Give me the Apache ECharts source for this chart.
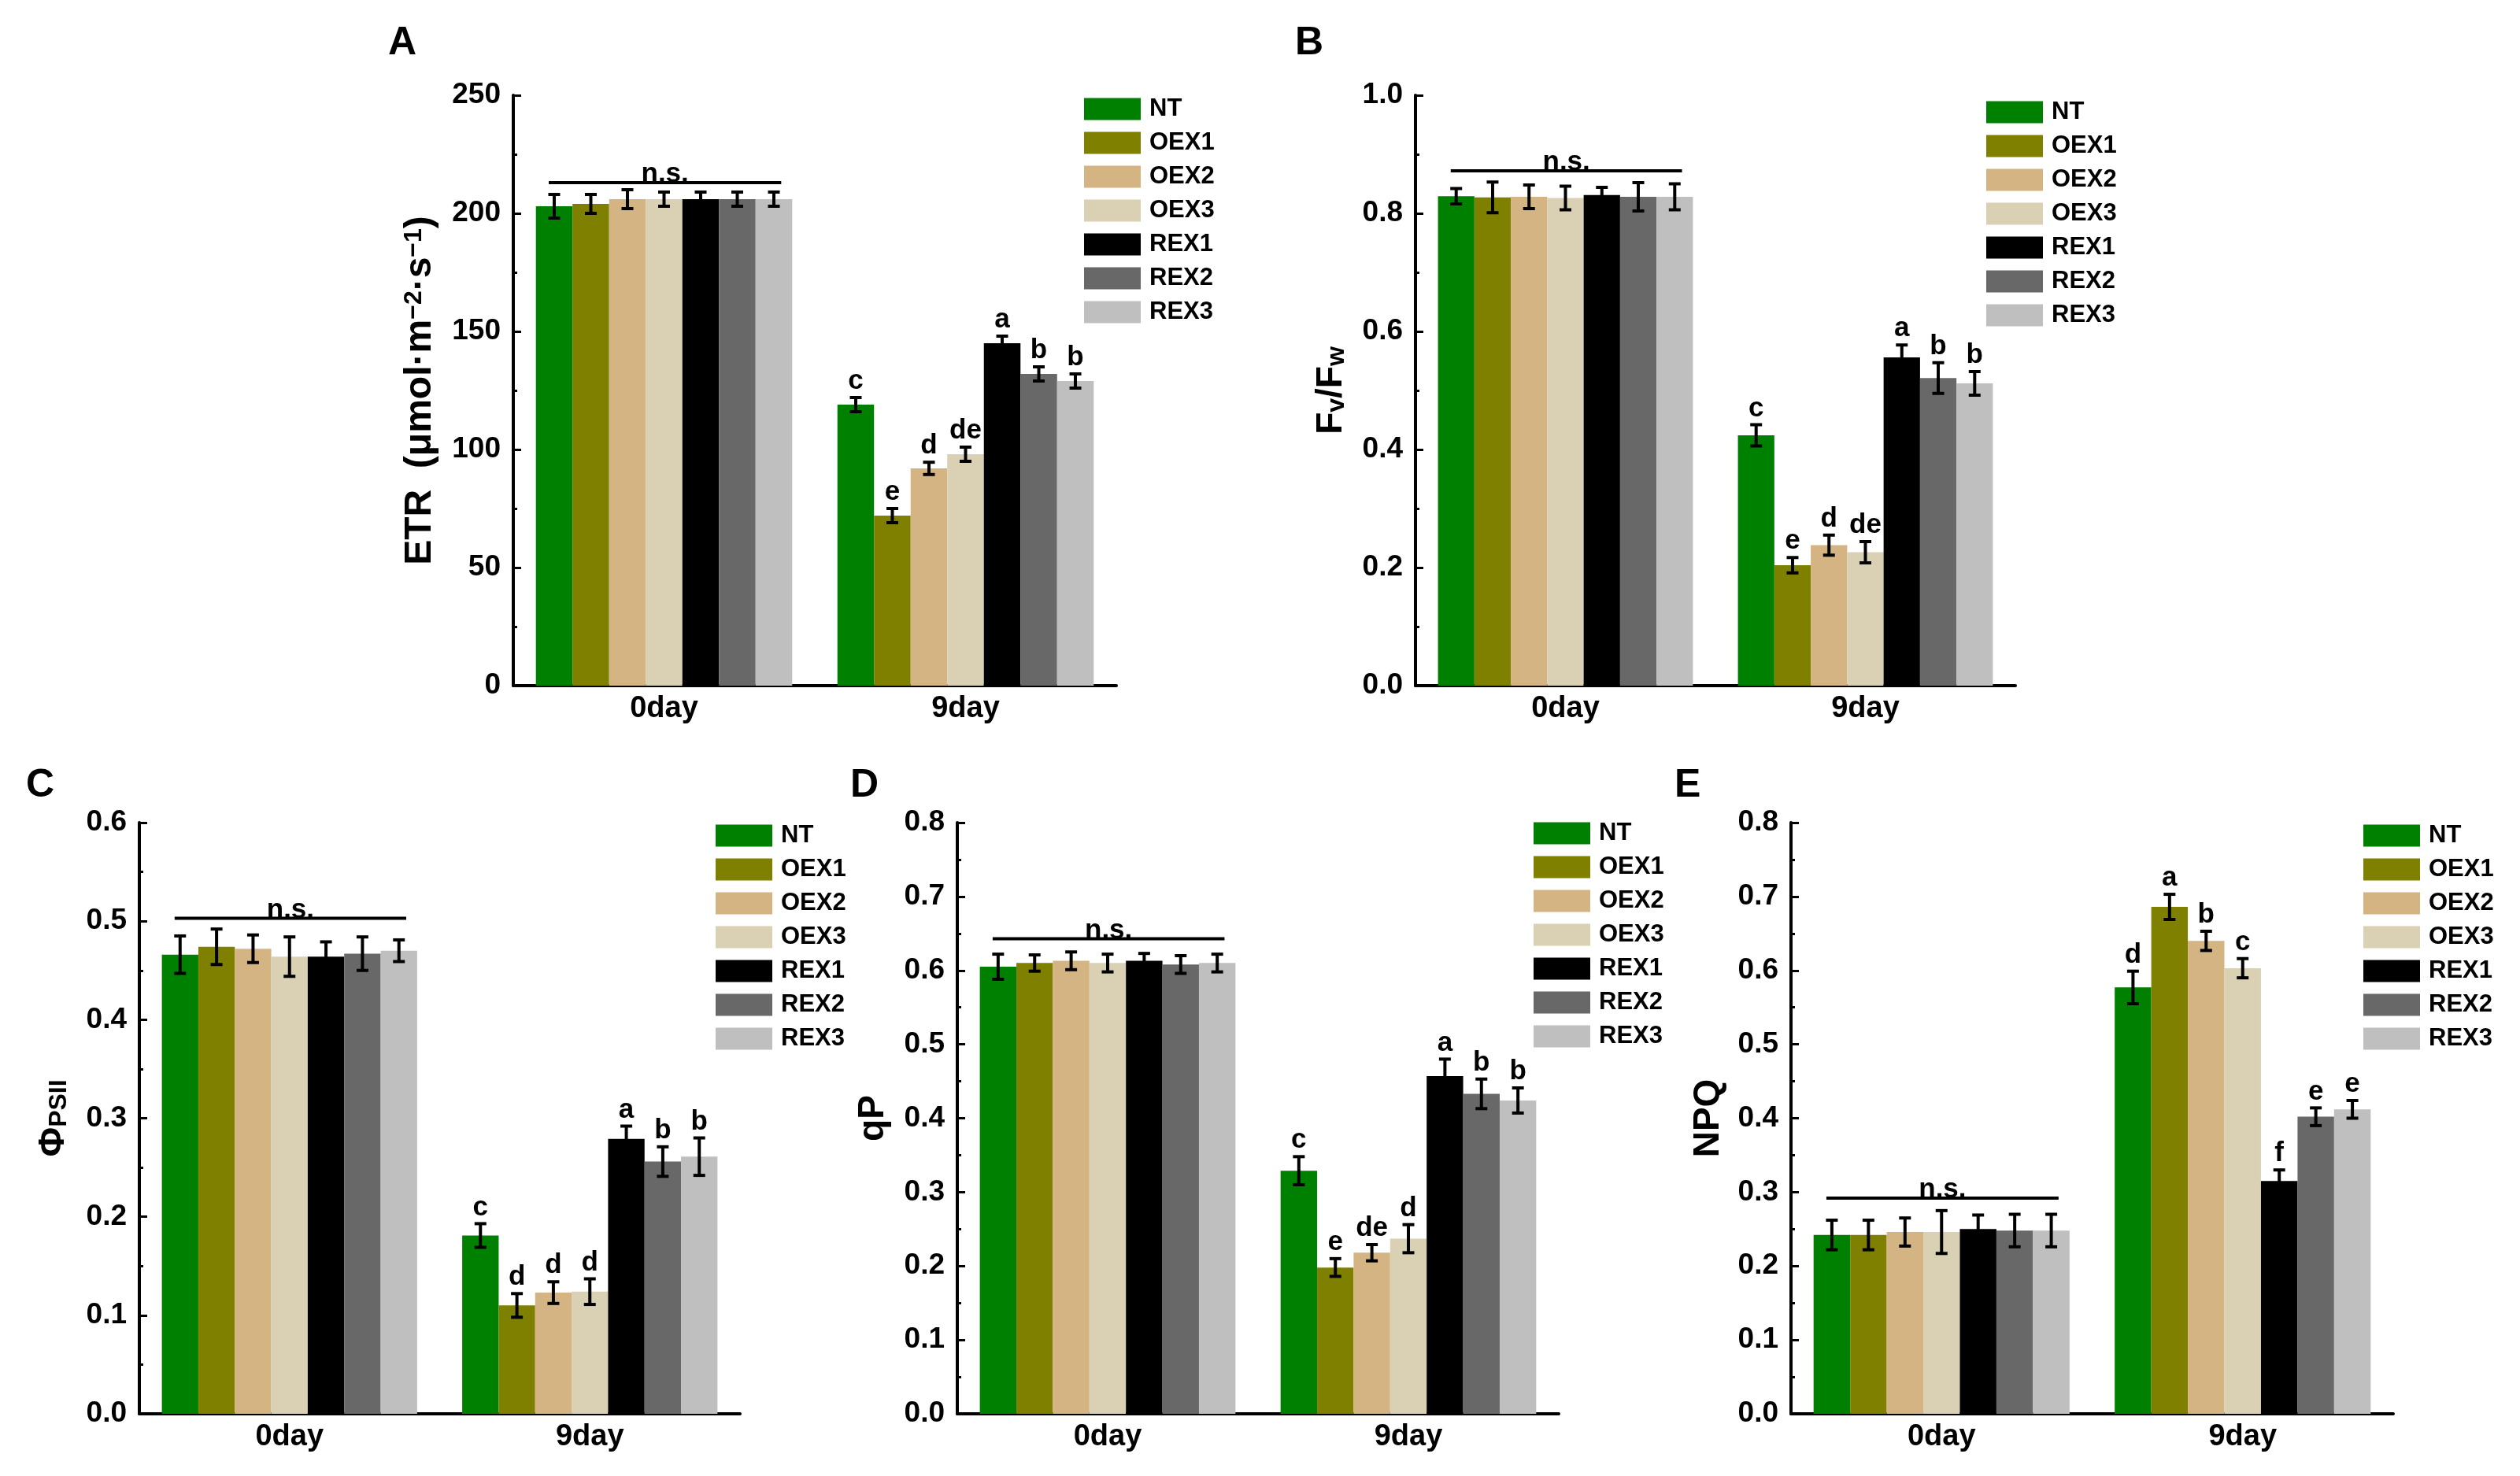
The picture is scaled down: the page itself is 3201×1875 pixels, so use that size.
<!DOCTYPE html>
<html>
<head>
	<meta charset="utf-8" />
	<title>ETR / Fv/Fw / ΦPSII / qP / NPQ</title>
	<script src="https://cdn.jsdelivr.net/npm/echarts@6/dist/echarts.min.js"></script>
	<style>
		html,body{margin:0;padding:0;background:#fff;}
	</style>
</head>
<body>
	<!-- chart container -->
	<div id="main" style="width: 3201px;height: 1875px;"></div>
	<script type="text/javascript">

		// genotypes and days
		var groups = ['NT','OEX1','OEX2','OEX3','REX1','REX2','REX3'];
		var days = ['0day','9day'];

		// A: ETR
		var etr0 = [203, 204, 206, 206, 206, 206, 206];
		var etrErr0 = [5, 4, 4, 3, 3, 3, 3];
		var etr9 = [119, 72, 92, 98, 145, 132, 129];
		var etrErr9 = [3, 3, 2.6, 3, 3, 3, 3];
		var etrSig = ['c','e','d','de','a','b','b'];

		// B: Fv/Fw
		var fv0 = [0.829, 0.827, 0.828, 0.826, 0.831, 0.828, 0.828];
		var fvErr0 = [0.013, 0.026, 0.02, 0.02, 0.013, 0.024, 0.022];
		var fv9 = [0.424, 0.204, 0.238, 0.226, 0.556, 0.521, 0.512];
		var fvErr9 = [0.018, 0.013, 0.017, 0.018, 0.021, 0.026, 0.02];
		var fvSig = ['c','e','d','de','a','b','b'];

		// C: PhiPSII
		var phi0 = [0.466, 0.474, 0.472, 0.464, 0.464, 0.467, 0.470];
		var phiErr0 = [0.019, 0.018, 0.014, 0.02, 0.015, 0.017, 0.011];
		var phi9 = [0.181, 0.110, 0.123, 0.124, 0.279, 0.256, 0.261];
		var phiErr9 = [0.012, 0.012, 0.011, 0.013, 0.013, 0.015, 0.019];
		var phiSig = ['c','d','d','d','a','b','b'];

		// D: qP
		var qp0 = [0.605, 0.610, 0.613, 0.610, 0.613, 0.608, 0.610];
		var qpErr0 = [0.017, 0.011, 0.012, 0.012, 0.01, 0.012, 0.012];
		var qp9 = [0.329, 0.198, 0.218, 0.237, 0.457, 0.433, 0.424];
		var qpErr9 = [0.019, 0.012, 0.011, 0.019, 0.023, 0.02, 0.017];
		var qpSig = ['c','e','de','d','a','b','b'];

		// E: NPQ
		var npq0 = [0.242, 0.242, 0.246, 0.246, 0.250, 0.248, 0.248];
		var npqErr0 = [0.02, 0.02, 0.019, 0.029, 0.019, 0.022, 0.022];
		var npq9 = [0.577, 0.686, 0.640, 0.603, 0.315, 0.402, 0.412];
		var npqErr9 = [0.022, 0.017, 0.013, 0.013, 0.015, 0.012, 0.012];
		var npqSig = ['d','a','b','c','f','e','e'];

		// height of the "n.s." line over 0day, per panel
		var nsLevel = [213, 0.872, 0.503, 0.643, 0.292];

		var colors = ['#008000','#808000','#D4B483','#DAD0B4','#000000','#686868','#BFBFBF'];
		var FONT = 'Arial, "Liberation Sans", sans-serif';
		var CAT_GAP = 0.15;

		var panels = [
			{letter:'A', v0:etr0, e0:etrErr0, v9:etr9, e9:etrErr9, sig:etrSig, max:250, interval:50, dec:0,
				name:'{a|ETR  (μmol·m}{s|−2}{a|·s}{s|−1}{a|)}', nameGap:94, nameSize:48,
				grid:{left:652, top:121, width:766, height:750}, legend:{left:1377, top:123}, title:{left:493, top:30}},
			{letter:'B', v0:fv0, e0:fvErr0, v9:fv9, e9:fvErr9, sig:fvSig, max:1.0, interval:0.2, dec:1,
				name:'{a|F}{b|v}{a|/F}{b|w}', nameGap:84, nameSize:46,
				grid:{left:1798, top:121, width:762, height:750}, legend:{left:2523, top:127}, title:{left:1645, top:30}},
			{letter:'C', v0:phi0, e0:phiErr0, v9:phi9, e9:phiErr9, sig:phiSig, max:0.6, interval:0.1, dec:1,
				name:'{a|Φ}{b|PSII}', nameGap:86, nameSize:46,
				grid:{left:177, top:1045, width:763, height:751}, legend:{left:909, top:1046}, title:{left:33, top:973}},
			{letter:'D', v0:qp0, e0:qpErr0, v9:qp9, e9:qpErr9, sig:qpSig, max:0.8, interval:0.1, dec:1,
				name:'{a|qP}', nameGap:84, nameSize:46,
				grid:{left:1216, top:1045, width:764, height:751}, legend:{left:1948, top:1043}, title:{left:1080, top:973}},
			{letter:'E', v0:npq0, e0:npqErr0, v9:npq9, e9:npqErr9, sig:npqSig, max:0.8, interval:0.1, dec:1,
				name:'{a|NPQ}', nameGap:82, nameSize:46,
				grid:{left:2275, top:1045, width:765, height:751}, legend:{left:3002, top:1046}, title:{left:2127, top:973}}
		];

		// offset of bar k inside its category band
		function barX(api, cat, k) {
			var band = api.size([1, 0])[0];
			var groupW = band * (1 - CAT_GAP);
			var bw = groupW / groups.length;
			return {x: api.coord([cat, 0])[0] - groupW / 2 + (k + 0.5) * bw, bw: bw};
		}

		function errRender(letters) {
			return function(params, api) {
				var cat = api.value(0), v = api.value(1), e = api.value(2), k = api.value(3);
				var p = barX(api, cat, k);
				var yt = api.coord([cat, v + e])[1];
				var yb = api.coord([cat, v - e])[1];
				var cap = 7.5;
				var st = {stroke:'#000', lineWidth:4};
				var children = [
					{type:'line', shape:{x1:p.x, y1:yt, x2:p.x, y2:yb}, style:st},
					{type:'line', shape:{x1:p.x-cap, y1:yt, x2:p.x+cap, y2:yt}, style:st},
					{type:'line', shape:{x1:p.x-cap, y1:yb, x2:p.x+cap, y2:yb}, style:st}
				];
				var t = letters[params.dataIndex];
				if (t) {
					children.push({type:'text', x:p.x, y:yt-3, style:{text:t, fill:'#000',
						fontSize:35, fontWeight:'bold', fontFamily:FONT, align:'center', verticalAlign:'bottom'}});
				}
				return {type:'group', children:children};
			};
		}

		function nsRender(params, api) {
			var a = barX(api, 0, 0), b = barX(api, 0, groups.length - 1);
			var y = api.coord([0, api.value(1)])[1];
			var x1 = a.x - 0.15 * a.bw, x2 = b.x + 0.2 * b.bw;
			return {type:'group', children:[
				{type:'line', shape:{x1:x1, y1:y, x2:x2, y2:y}, style:{stroke:'#000', lineWidth:4}},
				{type:'text', x:(x1 + x2) / 2, y:y + 7, style:{text:'n.s.', fill:'#000', fontSize:35,
					fontWeight:'bold', fontFamily:FONT, align:'center', verticalAlign:'bottom'}}
			]};
		}

		var option = {
			backgroundColor:'#fff',
			animation:false,
			title:[], grid:[], xAxis:[], yAxis:[], legend:[], series:[]
		};

		panels.forEach(function(p, i) {
			option.title.push({text:p.letter, left:p.title.left, top:p.title.top, padding:0,
				textStyle:{fontSize:50, fontWeight:'bold', color:'#000', fontFamily:FONT}});

			option.grid.push({left:p.grid.left, top:p.grid.top, width:p.grid.width, height:p.grid.height,
				containLabel:false, outerBoundsMode:'none'});

			option.xAxis.push({
				type:'category', gridIndex:i, data:days,
				axisLine:{lineStyle:{color:'#000', width:4}},
				axisTick:{alignWithLabel:true, inside:true, length:7, lineStyle:{color:'#000', width:3}},
				axisLabel:{color:'#000', fontSize:38, fontWeight:'bold', fontFamily:FONT, margin:11}
			});

			option.yAxis.push({
				type:'value', gridIndex:i, min:0, max:p.max, interval:p.interval,
				name:p.name, nameLocation:'middle', nameRotate:90, nameGap:p.nameGap,
				nameTextStyle:{color:'#000', fontFamily:FONT, rich:{
					a:{fontSize:p.nameSize, fontWeight:'bold', color:'#000', fontFamily:FONT},
					s:{fontSize:32, fontWeight:'bold', color:'#000', fontFamily:FONT, verticalAlign:'top'},
					b:{fontSize:32, fontWeight:'bold', color:'#000', fontFamily:FONT, verticalAlign:'bottom', padding:[14,0,0,0]}
				}},
				axisLine:{show:true, lineStyle:{color:'#000', width:4}},
				axisTick:{show:true, inside:true, length:10, lineStyle:{color:'#000', width:3}},
				minorTick:{show:true, splitNumber:2, length:5, lineStyle:{color:'#000', width:3}},
				splitLine:{show:false},
				axisLabel:{color:'#000', fontSize:37, fontWeight:'bold', fontFamily:FONT, margin:16,
					formatter:(function(dec){ return function(v){ return v.toFixed(dec); }; })(p.dec)}
			});

			option.legend.push({
				left:p.legend.left, top:p.legend.top, orient:'vertical', padding:0,
				itemWidth:72, itemHeight:28, itemGap:12, icon:'rect', selectedMode:false,
				data:groups,
				textStyle:{fontSize:31, fontWeight:'bold', color:'#000', fontFamily:FONT, padding:[0,0,0,6]}
			});

			groups.forEach(function(g, k) {
				option.series.push({
					name:g, type:'bar', xAxisIndex:i, yAxisIndex:i,
					data:[p.v0[k], p.v9[k]],
					barGap:'0%', barCategoryGap:(CAT_GAP * 100) + '%',
					itemStyle:{color:colors[k]}
				});
			});

			// error bars and letters
			var rows = [], letters = [];
			[[p.v0, p.e0, null], [p.v9, p.e9, p.sig]].forEach(function(set, d) {
				for (var k = 0; k < groups.length; k++) {
					rows.push([d, set[0][k], set[1][k], k]);
					letters.push(set[2] ? set[2][k] : '');
				}
			});
			option.series.push({
				type:'custom', xAxisIndex:i, yAxisIndex:i, z:5, clip:false, silent:true,
				renderItem:errRender(letters), data:rows
			});

			option.series.push({
				type:'custom', xAxisIndex:i, yAxisIndex:i, z:5, clip:false, silent:true,
				renderItem:nsRender, data:[[0, nsLevel[i]]]
			});
		});

		var myChart = echarts.init(document.getElementById('main'));
		myChart.setOption(option);

	</script>
</body>
</html>
